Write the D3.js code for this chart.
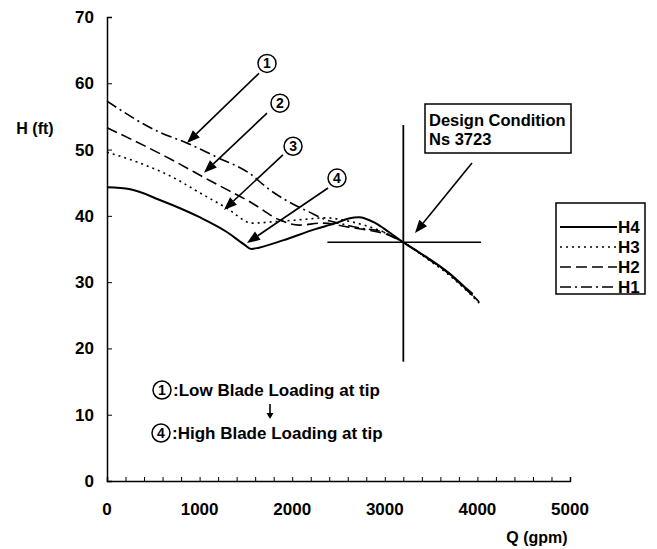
<!DOCTYPE html>
<html>
<head>
<meta charset="utf-8">
<script src="https://cdn.jsdelivr.net/npm/d3@7"></script>
<style>
  body { margin: 0; background: #fff; }
  text { font-family: "Liberation Sans", Arial, sans-serif; font-weight: bold; fill: #000; }
</style>
</head>
<body>
<svg id="chart" width="657" height="549"></svg>
<script>
// head curves, Q (gpm) vs H (ft)
var q4 = [0, 250, 570, 1000, 1290, 1480, 1560, 1640, 1900, 2250, 2470, 2610, 2720, 2900, 3040, 3200, 3470, 3690, 3900, 3950];
var h4 = [44.3, 44.0, 42.4, 39.8, 37.6, 35.7, 35.0, 35.2, 36.3, 38.0, 38.9, 39.6, 39.8, 38.9, 37.6, 36.0, 33.6, 31.4, 28.8, 28.2];

var q3 = [0, 350, 700, 1000, 1290, 1570, 1790, 2075, 2365, 2610, 2800, 3000, 3200, 3470, 3700, 3900, 4050];
var h3 = [49.6, 48.0, 45.9, 43.5, 41.2, 38.9, 39.1, 39.4, 39.7, 39.2, 38.5, 37.5, 36.0, 33.4, 31.0, 28.5, 26.4];

var q2 = [0, 640, 1140, 1570, 1860, 2075, 2320, 2610, 2800, 3000, 3200, 3470, 3700, 3900, 4000];
var h2 = [53.3, 48.9, 45.1, 41.9, 39.4, 38.6, 38.9, 38.3, 37.9, 37.3, 36.0, 33.5, 31.2, 28.6, 27.3];

var q1 = [0, 570, 860, 1180, 1540, 1750, 2075, 2180, 2365, 2500, 2720, 2970, 3200, 3470, 3700, 3900, 4020];
var h1 = [57.3, 52.6, 51.0, 48.9, 46.4, 44.0, 41.3, 40.6, 39.4, 38.9, 38.2, 37.6, 36.0, 33.5, 31.2, 28.7, 27.0];

var seriesNames = ['H4', 'H3', 'H2', 'H1'];
var xTicks = [0, 1000, 2000, 3000, 4000, 5000];
var yTicks = [0, 10, 20, 30, 40, 50, 60, 70];

// design point lines
var designQ = 3200;
var designH = 36;
var vLineH = [18, 53.7];
var hLineQ = [2380, 4040];

// circled callouts: [label, centerQ, centerH, fromQ, fromH, tipQ, tipH]
var callouts = [
    ['1', 1728, 63.0, 1641, 61.5, 864, 51.0],
    ['2', 1868, 57.0, 1728, 55.5, 1047, 46.5],
    ['3', 2009, 50.5, 1900, 49.2, 1263, 40.9],
    ['4', 2484, 45.7, 2387, 44.2, 1512, 35.9]
];

var svg = d3.select('#chart');

var x = d3.scaleLinear().domain([0, 5000]).range([107, 570]);
var y = d3.scaleLinear().domain([0, 70]).range([481, 17]);

// axes
var xAxis = d3.axisBottom(x).tickValues(d3.range(0, 5001, 200)).tickSize(-4).tickFormat('');
svg.append('g').attr('transform', 'translate(0,481)').call(xAxis)
    .call(function (g) { g.select('.domain').attr('stroke-width', 1.5); });

svg.append('g').selectAll('text').data(xTicks).enter().append('text')
    .attr('x', function (d) { return x(d); })
    .attr('y', 515)
    .attr('text-anchor', 'middle')
    .style('font-size', '17px')
    .text(function (d) { return d; });

var yAxis = d3.axisLeft(y).tickValues(yTicks).tickSize(-5).tickFormat('');
svg.append('g').attr('transform', 'translate(107,0)').call(yAxis)
    .call(function (g) { g.select('.domain').attr('stroke-width', 1.5); });

svg.append('g').selectAll('text').data(yTicks).enter().append('text')
    .attr('x', 94)
    .attr('y', function (d) { return y(d) + 6; })
    .attr('text-anchor', 'end')
    .style('font-size', '17px')
    .text(function (d) { return d; });

svg.append('text').attr('x', 35).attr('y', 134).attr('text-anchor', 'middle')
    .style('font-size', '16px').text('H (ft)');
svg.append('text').attr('x', 537).attr('y', 543).attr('text-anchor', 'middle')
    .style('font-size', '16px').text('Q (gpm)');

// curves
var dashes = { H4: null, H3: '2,4', H2: '11,5', H1: '11,4,2,4' };
var widths = { H4: 2, H3: 1.6, H2: 1.6, H1: 1.6 };
var curves = {
    H4: d3.zip(q4, h4), H3: d3.zip(q3, h3), H2: d3.zip(q2, h2), H1: d3.zip(q1, h1)
};

var line = d3.line()
    .x(function (d) { return x(d[0]); })
    .y(function (d) { return y(d[1]); })
    .curve(d3.curveMonotoneX);

seriesNames.forEach(function (name) {
    svg.append('path')
        .attr('d', line(curves[name]))
        .attr('fill', 'none')
        .attr('stroke', '#000')
        .attr('stroke-width', widths[name])
        .attr('stroke-dasharray', dashes[name]);
});

// design condition cross
svg.append('line')
    .attr('x1', x(designQ)).attr('x2', x(designQ))
    .attr('y1', y(vLineH[0])).attr('y2', y(vLineH[1]))
    .attr('stroke', '#000').attr('stroke-width', 1.8);
svg.append('line')
    .attr('x1', x(hLineQ[0])).attr('x2', x(hLineQ[1]))
    .attr('y1', y(designH)).attr('y2', y(designH))
    .attr('stroke', '#000').attr('stroke-width', 1.5);

function arrow(x1, y1, x2, y2, len, wid) {
    var ang = Math.atan2(y2 - y1, x2 - x1);
    len = len || 13; wid = wid || 5;
    var bx = x2 - len * Math.cos(ang), by = y2 - len * Math.sin(ang);
    svg.append('line')
        .attr('x1', x1).attr('y1', y1).attr('x2', bx).attr('y2', by)
        .attr('stroke', '#000').attr('stroke-width', 1.6);
    var px = -Math.sin(ang) * wid, py = Math.cos(ang) * wid;
    svg.append('path')
        .attr('d', 'M' + x2 + ',' + y2 + 'L' + (bx + px) + ',' + (by + py) + 'L' + (bx - px) + ',' + (by - py) + 'Z')
        .attr('fill', '#000');
}

function circled(cx, cy, label) {
    svg.append('circle').attr('cx', cx).attr('cy', cy).attr('r', 9)
        .attr('fill', '#fff').attr('stroke', '#000').attr('stroke-width', 1.5);
    svg.append('text').attr('x', cx).attr('y', cy + 5).attr('text-anchor', 'middle')
        .style('font-size', '14px').text(label);
}

callouts.forEach(function (c) {
    arrow(x(c[3]), y(c[4]), x(c[5]), y(c[6]));
    circled(x(c[1]), y(c[2]), c[0]);
});

// design condition box
svg.append('rect').attr('x', 425).attr('y', 104).attr('width', 146).attr('height', 49)
    .attr('fill', '#fff').attr('stroke', '#000').attr('stroke-width', 1.5);
svg.append('text').attr('x', 429).attr('y', 126).style('font-size', '16.5px').text('Design Condition');
svg.append('text').attr('x', 429).attr('y', 145).style('font-size', '16.5px').text('Ns 3723');
arrow(472, 163, x(3326), y(37.4));

// legend
var legend = svg.append('g');
legend.append('rect').attr('x', 556).attr('y', 203).attr('width', 89).attr('height', 91)
    .attr('fill', '#fff').attr('stroke', '#000').attr('stroke-width', 1.5);
seriesNames.forEach(function (name, i) {
    var ly = 227 + i * 20;
    legend.append('line').attr('x1', 560).attr('x2', 617).attr('y1', ly).attr('y2', ly)
        .attr('stroke', '#000').attr('stroke-width', widths[name])
        .attr('stroke-dasharray', dashes[name]);
    legend.append('text').attr('x', 618).attr('y', ly + 6).style('font-size', '17px').text(name);
});

// loading notes
circled(162, 390, '1');
svg.append('text').attr('x', 173).attr('y', 396).style('font-size', '17px').text(':Low Blade Loading at tip');
arrow(270, 404, 270, 419, 6, 3.5);
circled(161, 433, '4');
svg.append('text').attr('x', 172).attr('y', 439).style('font-size', '17px').text(':High Blade Loading at tip');
</script>
</body>
</html>
